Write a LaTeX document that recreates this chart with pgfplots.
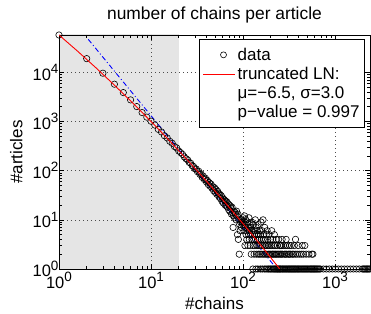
\documentclass[border=0pt]{standalone}
\usepackage{fontspec}
\setmainfont{Liberation Sans}
\usepackage{pgfplots}
\pgfplotsset{compat=1.18}
\newcommand{\fs}{\fontsize{17bp}{19bp}\selectfont}
\newcommand{\ft}{\fontsize{16.5bp}{18bp}\selectfont}
\newcommand{\tp}[1]{10\raisebox{0.4em}{\fontsize{13.5bp}{14bp}\selectfont #1}}
\begin{document}
\begin{tikzpicture}
\begin{axis}[
 set layers,
 scale only axis, width=311bp, height=234bp,
 xmode=log, ymode=log,
 xmin=1, xmax=2400, ymin=1, ymax=57150,
 xtick={1,10,100,1000}, xticklabels={\tp{0},\tp{1},\tp{2},\tp{3}},
 ytick={1,10,100,1000,10000}, yticklabels={\tp{0},\tp{1},\tp{2},\tp{3},\tp{4}},
 tick align=inside,
 major tick length=5bp, minor tick length=3bp,
 grid=major,
 major grid style={black!70, line width=0.5bp, dash pattern=on 1bp off 3bp},
 axis line style={line width=0.9bp},
 every tick/.style={black, line width=0.5bp},
 clip mode=individual,
 tick label style={font=\ft},
 yticklabel style={xshift=3bp},
 label style={font=\fs},
 title style={font=\fontsize{17.4bp}{19bp}\selectfont, at={(0.5,1)}, anchor=base, yshift=10bp},
 title={number of chains per article},
 xlabel={\#chains}, ylabel={\#articles},
 xlabel style={at={(axis description cs:0.5,0)}, anchor=base, yshift=-40.5bp},
 ylabel style={at={(axis description cs:-0.118,0.5)}, anchor=base},
 legend style={at={(0.984,0.983)}, anchor=north east, font=\fs, fill=white, row sep=1.5bp, inner ysep=6.5bp, line width=0.9bp},
 legend cell align=left,
]
\addplot[fill=gray!20, draw=none, on layer=axis background, forget plot] coordinates {(1,0.9) (20,0.9) (20,100000) (1,100000)} -- cycle;
\addplot[blue, line width=0.9bp, dash pattern=on 5bp off 2.5bp on 1bp off 2.5bp, forget plot] coordinates {(2.08,46670) (233.9,1)};
\addplot[only marks, mark=o, mark size=3.2bp, black, mark options={line width=0.6bp},
 legend image code/.code={\path[draw=none] (0bp,0bp) -- (32bp,0bp); \node[draw=black, circle, inner sep=0pt, minimum size=6bp, line width=0.6bp] at (17bp,0bp) {};}]
coordinates {
(1,57150) (2,18900) (3,9550) (4,5710) (5,3860) (6,2740) (7,2005) (8,1515) (9,1222) (10,1010)
(11,845) (12,690) (13,610) (14,512) (15,462) (16,395) (17,360) (18,309) (19,290) (20,251)
(21,232) (22,214) (23,190) (24,175) (25,166) (26,147) (27,141) (28,126) (29,121) (30,109)
(31,108) (32,95) (33,97) (34,84) (35,86) (36,73) (37,77) (38,66) (39,70) (40,59)
(41,63) (42,52) (43,57) (44,48) (45,53) (46,44) (47,47) (48,39) (49,45) (50,36)
(51,41) (52,33) (53,38) (54,35) (55,29) (56,33) (57,27) (58,31) (59,24) (60,28)
(61,22) (62,26) (63,25) (64,20) (65,24) (66,19) (67,23) (68,18) (69,21) (70,16)
(71,20) (72,15) (73,19) (74,17) (75,13) (76,18) (77,14) (78,7) (79,12) (80,15)
(81,11) (82,14) (83,13) (84,10) (85,15) (86,12) (87,5) (88,13) (89,4) (90,10)
(91,2) (92,8) (93,6) (94,9) (95,10) (96,7) (97,10) (98,9) (99,8) (100,11)
(101,9) (102,6) (103,8) (104,12) (105,3) (106,7) (107,10) (108,5) (109,8) (110,4)
(111,6) (112,9) (113,3) (114,7) (115,5) (116,11) (117,4) (118,6) (119,8) (120,3)
(121,5) (122,7) (123,2) (124,9) (125,4) (126,6) (127,5) (128,1) (129,3) (130,8)
(131,4) (132,2) (133,6) (134,5) (135,3) (136,10) (137,4) (138,1) (139,7) (140,2)
(141,5) (142,3) (143,6) (144,4) (145,1) (146,8) (147,2) (148,5) (149,3) (150,4)
(152,6) (153,2) (154,1) (155,5) (156,3) (157,9) (158,4) (160,2) (161,6) (162,1)
(163,3) (165,10) (166,4) (167,2) (168,5) (170,3) (171,1) (172,7) (174,2) (175,4)
(176,3) (178,1) (179,5) (180,2) (182,3) (183,6) (185,1) (186,4) (188,2) (189,3)
(191,1) (192,5) (194,2) (196,3) (197,1) (199,4) (200,2) (202,1) (204,3) (205,6)
(207,2) (209,1) (211,4) (212,2) (214,3) (216,1) (218,2) (219,5) (221,1) (223,3)
(225,2) (227,1) (229,4) (231,2) (233,1) (235,3) (237,1) (239,2) (241,1) (244,4)
(246,2) (248,1) (250,3)
(252,1) (258,1) (265,1) (271,1) (278,1) (285,1) (292,1) (299,1) (307,1) (314,1)
(322,1) (330,1) (339,1) (347,1) (356,1) (365,1) (374,1) (383,1) (393,1) (403,1)
(413,1) (423,1) (434,1) (445,1) (456,1) (467,1) (479,1) (491,1) (503,1) (516,1)
(529,1) (542,1) (555,1) (569,1) (584,1) (598,1) (613,1) (629,1) (644,1) (660,1)
(677,1) (694,1) (748,1) (806,1) (869,1) (937,1) (1010,1) (1089,1) (1174,1) (1265,1)
(1364,1) (1470,1) (1585,1) (1708,1) (1841,1) (1985,1) (2040,1) (2095,1) (2150,1) (2210,1)
(2270,1) (2330,1) (2390,1)
(255,2) (262,2) (268,2) (281,2) (288,2) (296,2) (310,2) (318,2) (327,2) (343,2)
(352,2) (370,2) (388,2) (409,2) (430,2) (452,2) (485,2) (520,2) (560,2) (575,2)
(256,3) (263,3) (275,3) (289,3) (303,3) (320,3) (335,3) (361,3) (398,3) (440,3) (470,3)
(266,4) (294,4) (372,4)
};
\addlegendentry{data}
\addplot[red, line width=0.9bp,
 legend image code/.code={\draw[draw=red, line width=0.9bp] (0bp,0bp) -- (32bp,0bp);}]
coordinates {(1,57150) (1.585,27000) (2.512,12380) (3.981,5514) (6.310,2384) (10,1000) (15.85,407.4) (25.12,161.1) (39.81,61.8) (63.10,23.05) (100,8.34) (158.5,2.93) (251.2,1.0)};
\addlegendentry{truncated LN:}
\addlegendimage{empty legend}
\addlegendentry{μ=−6.5, σ=3.0}
\addlegendimage{empty legend}
\addlegendentry{p−value = 0.997}
\end{axis}
\pgfresetboundingbox
\path ([shift={(-59bp,-45bp)}]current axis.south west) rectangle ([shift={(1bp,35bp)}]current axis.north east);
\end{tikzpicture}
\end{document}
